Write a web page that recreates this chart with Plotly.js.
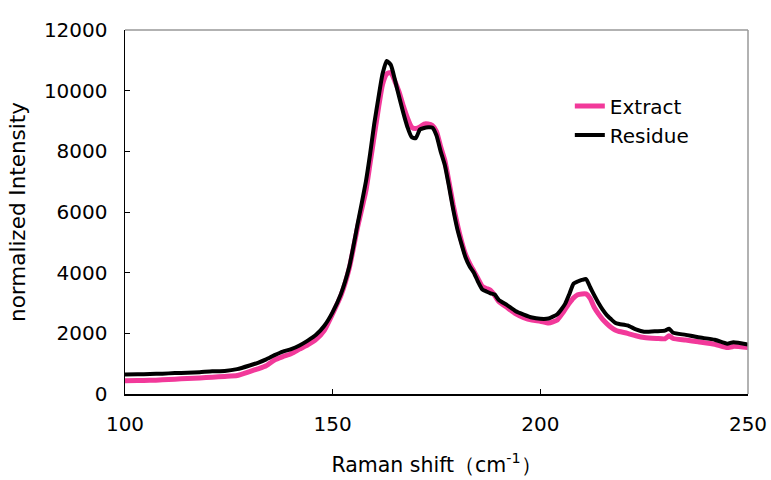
<!DOCTYPE html>
<html>
<head>
<meta charset="utf-8">
<script src="https://cdn.plot.ly/plotly-3.0.1.min.js"></script>
<style>html,body{margin:0;padding:0;background:#fff;}#chart{width:771px;height:480px;}</style>
</head>
<body>
<div id="chart"></div>
<script>
const ramanShift = [100,103,106,109,112,115,118,121,124,127,130,132,134,136,138,140,142,144,146,148,150,152,154,156,158,159,160,161,162,163,164,165,166,167,168,169,170,171,172,173,174,175,176,177,178,179,180,181,182,183,184,185,186,187,188,189,190,192,194,196,198,200,202,204,205,206,207,208,209,210,211,212,213,214,215,216,217,218,219,221,223,225,228,230,231,232,235,238,242,245,246.5,250];

const extractIntensity = [440,445,450,470,490,510,530,555,580,610,740,830,930,1120,1230,1330,1480,1620,1800,2100,2650,3250,4150,5500,6700,7600,8500,9400,10200,10550,10600,10300,9950,9500,9100,8800,8750,8800,8900,8900,8850,8650,8150,7700,7000,6250,5600,5050,4600,4300,4050,3800,3550,3480,3420,3250,3050,2850,2650,2520,2440,2400,2340,2430,2600,2800,3000,3170,3270,3300,3300,3150,2850,2640,2460,2320,2200,2110,2060,2000,1920,1860,1830,1820,1920,1830,1780,1720,1640,1530,1570,1530];

const residueIntensity = [640,650,660,670,690,700,720,750,760,820,940,1030,1140,1280,1400,1480,1600,1760,1950,2250,2700,3300,4200,5600,7000,7900,8900,9750,10550,10980,10850,10350,9800,9270,8800,8470,8430,8720,8770,8790,8780,8520,8000,7550,6850,6100,5450,4950,4500,4200,4000,3700,3450,3380,3320,3280,3100,2930,2740,2620,2520,2480,2490,2620,2780,2980,3300,3640,3710,3760,3790,3520,3250,3000,2780,2600,2470,2350,2310,2260,2130,2050,2070,2090,2150,2020,1950,1870,1790,1660,1710,1630];

const seriesNames = ["Extract", "Residue"];
const xTickVals = [100, 150, 200, 250];
const yTickVals = [0, 2000, 4000, 6000, 8000, 10000, 12000];

const font = "DejaVu Sans, Arial, sans-serif";

const traces = [
  {x: ramanShift, y: extractIntensity, name: seriesNames[0], type: "scatter", mode: "lines",
   legendgroup: "a",
   line: {color: "#f2399a", width: 5, shape: "spline", smoothing: 0.5}},
  {x: ramanShift, y: residueIntensity, name: seriesNames[1], type: "scatter", mode: "lines",
   legendgroup: "b",
   line: {color: "#000000", width: 4, shape: "spline", smoothing: 0.5}}
];

const layout = {
  width: 771, height: 480,
  margin: {l: 125, r: 23, t: 30, b: 86},
  paper_bgcolor: "#fff", plot_bgcolor: "#fff",
  font: {family: font, size: 20, color: "#000"},
  showlegend: true,
  legend: {x: 0.714, y: 0.845, xanchor: "left", yanchor: "top",
           bgcolor: "rgba(0,0,0,0)", font: {family: font, size: 20},
           tracegroupgap: 0},
  xaxis: {range: [100, 250], tickvals: xTickVals, ticktext: xTickVals.map(String),
          ticks: "inside", ticklen: 5, tickcolor: "#000", tickwidth: 1,
          showline: true, linecolor: "#000", linewidth: 1.5, showgrid: false, zeroline: false,
          ticklabelstandoff: 11,
          tickfont: {family: font, size: 20},
          title: {text: "Raman shift（cm<sup>-1</sup>）", font: {family: font, size: 20.5}, standoff: 23}},
  yaxis: {range: [0, 12000], tickvals: yTickVals, ticktext: yTickVals.map(String),
          ticks: "inside", ticklen: 5, tickcolor: "#000", tickwidth: 1,
          showline: true, linecolor: "#000", linewidth: 1.5, showgrid: false, zeroline: false,
          ticklabelstandoff: 12,
          tickfont: {family: font, size: 20},
          title: {text: "normalized Intensity", font: {family: font, size: 21.5}, standoff: 12}},
  shapes: [
    {type: "line", xref: "paper", yref: "paper", x0: 0, x1: 1, y0: 1, y1: 1,
     line: {color: "#999", width: 1.5}, layer: "above"},
    {type: "line", xref: "paper", yref: "paper", x0: 1, x1: 1, y0: 0, y1: 1,
     line: {color: "#999", width: 1.5}, layer: "above"}
  ]
};

Plotly.newPlot("chart", traces, layout, {displayModeBar: false, staticPlot: true});
</script>
</body>
</html>
